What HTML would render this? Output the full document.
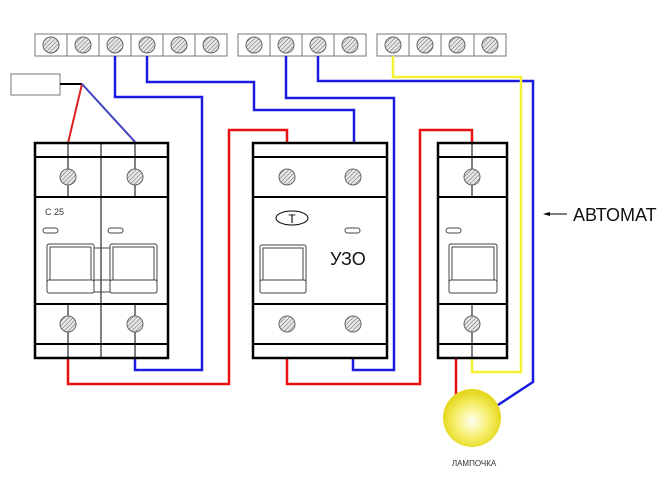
<!DOCTYPE html>
<html><head><meta charset="utf-8"><style>html,body{margin:0;padding:0;background:#fff}svg{display:block}</style></head>
<body>
<svg width="670" height="480" viewBox="0 0 670 480" xmlns="http://www.w3.org/2000/svg" font-family="Liberation Sans, DejaVu Sans, sans-serif">
<defs>
<pattern id="h" width="3" height="3" patternUnits="userSpaceOnUse" patternTransform="rotate(45)">
<rect width="3" height="3" fill="#e6e6e6"/><line x1="0" y1="0" x2="0" y2="3" stroke="#666" stroke-width="1"/></pattern>
<radialGradient id="lamp" cx="50%" cy="55%" r="50%"><stop offset="0" stop-color="#fffef0"/><stop offset="0.6" stop-color="#f6ee6a"/><stop offset="1" stop-color="#e6d820"/></radialGradient>
</defs>
<g stroke="#777" fill="#fff" stroke-width="1">
<rect x="35" y="34" width="192" height="22"/>
<rect x="238" y="34" width="128" height="22"/>
<rect x="377" y="34" width="129" height="22"/>
<path d="M67 34v22M99 34v22M131 34v22M163 34v22M195 34v22M270 34v22M302 34v22M334 34v22M409 34v22M441 34v22M474 34v22"/>
</g>
<g fill="url(#h)" stroke="#666" stroke-width="1">
<circle cx="51" cy="45" r="8"/><circle cx="83" cy="45" r="8"/><circle cx="115" cy="45" r="8"/><circle cx="147" cy="45" r="8"/><circle cx="179" cy="45" r="8"/><circle cx="211" cy="45" r="8"/>
<circle cx="254" cy="45" r="8"/><circle cx="286" cy="45" r="8"/><circle cx="318" cy="45" r="8"/><circle cx="350" cy="45" r="8"/>
<circle cx="393" cy="45" r="8"/><circle cx="425" cy="45" r="8"/><circle cx="457" cy="45" r="8"/><circle cx="490" cy="45" r="8"/>
</g>
<rect x="11" y="74" width="49" height="21" fill="#fff" stroke="#777"/>
<line x1="60" y1="84" x2="82" y2="84" stroke="#000" stroke-width="2"/>
<line x1="82" y1="84" x2="68" y2="143" stroke="#e02020" stroke-width="2"/>
<line x1="82" y1="84" x2="136" y2="143" stroke="#4040c0" stroke-width="2"/>
<g fill="none" stroke-width="2.5">
<path d="M115 56V97H202V370H135V357" stroke="#1a1ae0"/>
<path d="M147 56V82H254V110H354V143" stroke="#1a1ae0"/>
<path d="M286 56V98H394V370H353V357" stroke="#1a1ae0"/>
<path d="M318 56V81H533V382L498 405" stroke="#1a1ae0"/>
<path d="M393 56V77H521V372H472V357" stroke="#f5f030"/>
<path d="M68 357V384H229V130H287V143" stroke="#e81010"/>
<path d="M287 357V384H420V130H472V143" stroke="#e81010"/>
<path d="M456 357V395" stroke="#e81010"/>
</g>
<g stroke="#000" fill="none">
<rect x="35" y="143" width="133" height="215" stroke-width="2.5" fill="#fff"/>
<path d="M35 157H168M35 197H168M35 304H168M35 344H168" stroke-width="2"/>
<path d="M101 143V358M68 143V197M135 143V197M68 304V358M135 304V358" stroke-width="1"/>
<rect x="253" y="143" width="134" height="215" stroke-width="2.5" fill="#fff"/>
<path d="M253 157H387M253 197H387M253 304H387M253 344H387" stroke-width="2"/>
<rect x="438" y="143" width="69" height="215" stroke-width="2.5" fill="#fff"/>
<path d="M438 157H507M438 197H507M438 304H507M438 344H507" stroke-width="2"/>
<path d="M472 143V197M472 304V358" stroke-width="1"/>
</g>
<g fill="url(#h)" stroke="#666" stroke-width="1">
<circle cx="68" cy="177" r="8"/><circle cx="135" cy="177" r="8"/><circle cx="68" cy="324" r="8"/><circle cx="135" cy="324" r="8"/>
<circle cx="287" cy="177" r="8"/><circle cx="353" cy="177" r="8"/><circle cx="287" cy="324" r="8"/><circle cx="353" cy="324" r="8"/>
<circle cx="472" cy="177" r="8"/><circle cx="472" cy="324" r="8"/>
</g>
<g fill="#fff" stroke="#444" stroke-width="1">
<rect x="43" y="228" width="15" height="5" rx="2.5"/><rect x="108" y="228" width="15" height="5" rx="2.5"/>
<rect x="345" y="228" width="15" height="5" rx="2.5"/><rect x="446" y="228" width="15" height="5" rx="2.5"/>
<rect x="47" y="244" width="47" height="49" rx="2"/><rect x="50" y="247" width="41" height="33"/><rect x="47" y="280" width="47" height="13" rx="2"/>
<rect x="110" y="244" width="47" height="49" rx="2"/><rect x="113" y="247" width="41" height="33"/><rect x="110" y="280" width="47" height="13" rx="2"/>
<path d="M94 248H110M94 280H110M94 292H110"/>
<rect x="260" y="245" width="46" height="48" rx="2"/><rect x="263" y="248" width="40" height="32"/><rect x="260" y="280" width="46" height="13" rx="2"/>
<rect x="449" y="244" width="48" height="49" rx="2"/><rect x="452" y="247" width="42" height="33"/><rect x="449" y="280" width="48" height="13" rx="2"/>
<ellipse cx="292" cy="218" rx="16" ry="7" stroke="#000"/>
</g>
<text x="292" y="223" font-size="12" text-anchor="middle" fill="#000">T</text>
<text x="45" y="215" font-size="9" fill="#333">C 25</text>
<text x="330" y="265" font-size="18" fill="#111">УЗО</text>
<circle cx="472" cy="418" r="29" fill="url(#lamp)"/>
<text x="474" y="466" font-size="8" text-anchor="middle" fill="#333">ЛАМПОЧКА</text>
<line x1="545" y1="214" x2="567" y2="214" stroke="#000" stroke-width="1"/>
<path d="M543 214L550 212V216Z" fill="#000"/>
<text x="573" y="221" font-size="18" fill="#111">АВТОМАТ</text>
</svg>
</body></html>
